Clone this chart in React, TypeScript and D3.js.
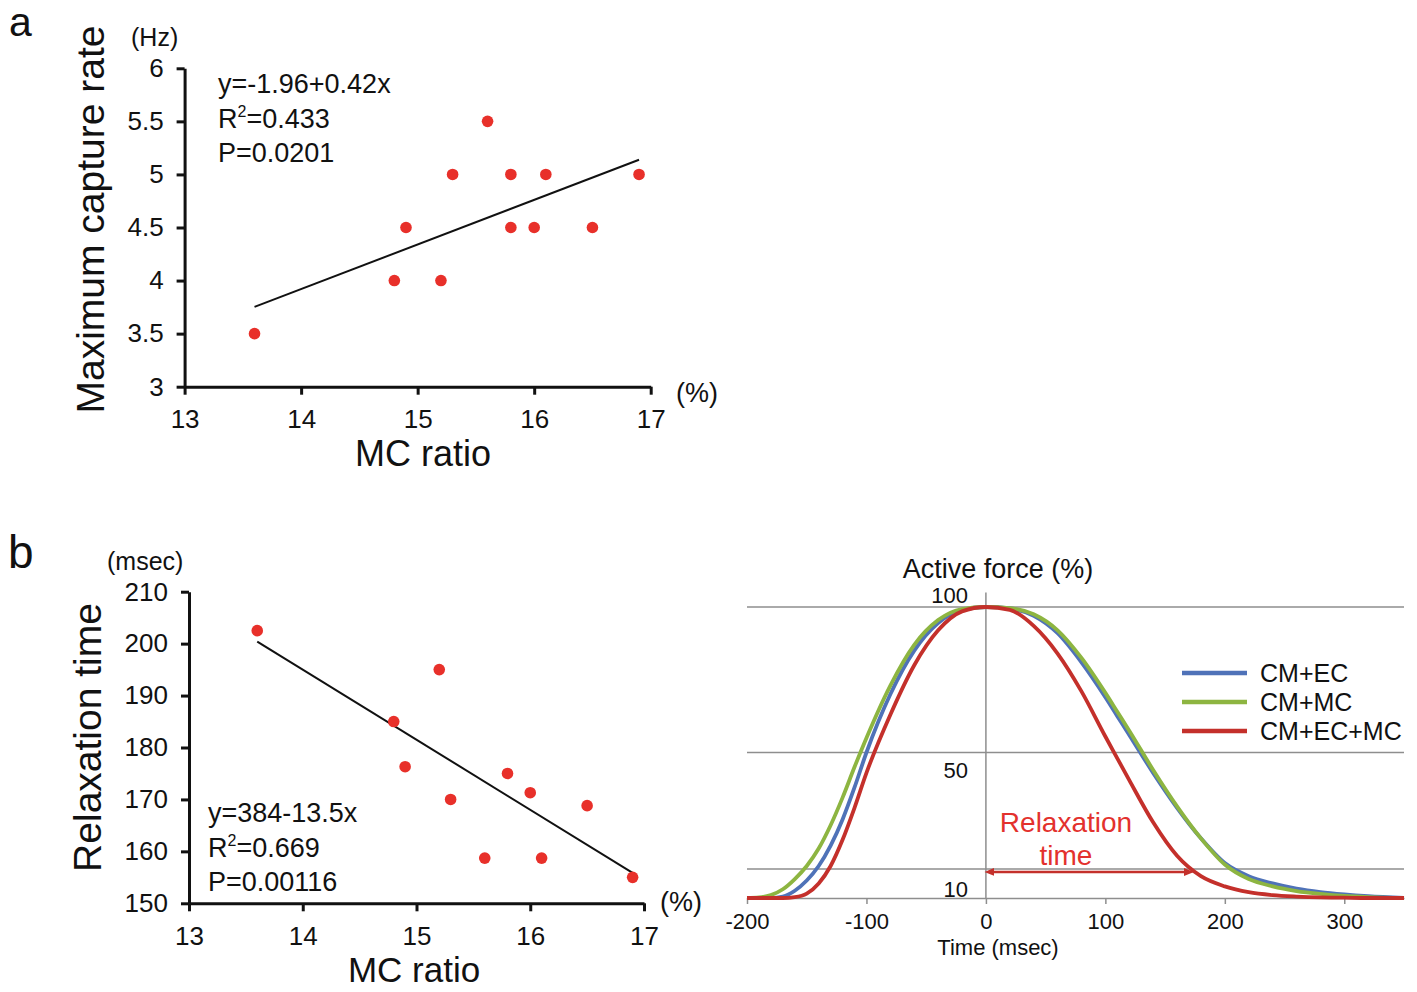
import React, { useEffect, useRef } from "react";
import * as d3 from "d3";

// panel a: MC ratio vs maximum capture rate
const mcRatioA = [13.6, 14.8, 14.9, 15.2, 15.3, 15.6, 15.8, 15.8, 16.0, 16.1, 16.5, 16.9];
const captureRate = [3.5, 4.0, 4.5, 4.0, 5.0, 5.5, 5.0, 4.5, 4.5, 5.0, 4.5, 5.0];
const fitA = [-1.96, 0.42];
const ticksAx = [13, 14, 15, 16, 17];
const ticksAy = [3, 3.5, 4, 4.5, 5, 5.5, 6];

// panel b (left): MC ratio vs relaxation time
const mcRatioB = [13.6, 14.8, 14.9, 15.2, 15.3, 15.6, 15.8, 16.0, 16.1, 16.5, 16.9];
const relaxTime = [202.5, 185, 176.3, 195, 170, 158.7, 175, 171.3, 158.7, 168.8, 155];
const fitB = [384, -13.5];
const ticksBy = [150, 160, 170, 180, 190, 200, 210];

// panel b (right): active force traces
const timeMs = [-200, -190, -180, -170, -160, -150, -140, -130, -120, -110, -100, -80, -60, -40, -20, 0,
  20, 40, 60, 80, 100, 110, 120, 140, 160, 180, 200, 220, 240, 260, 280, 300, 320, 350];
const forceCmEc = [0, 0, 0, 0.5, 2.5, 6, 11, 18, 27, 38, 50, 70, 85, 94.5, 99, 100,
  99.5, 97, 91, 81, 69, 62.5, 56, 43, 31, 20.5, 12, 7.5, 5, 3.2, 2, 1.2, 0.6, 0];
const forceCmMc = [0, 0.2, 1, 3, 6.5, 11, 17, 25, 34.5, 45, 55, 73, 87, 95.5, 99.3, 100,
  99.6, 97.5, 92, 82.5, 70.5, 64, 57.5, 44, 31.5, 20.5, 11.5, 6.5, 4, 2.4, 1.4, 0.7, 0.3, 0];
const forceCmEcMc = [0, 0, 0, 0, 0.3, 1.5, 5, 11, 20, 31, 43, 63, 80, 92, 98.5, 100,
  99, 93.5, 84, 71, 55.5, 48, 40.5, 26, 14.5, 7.5, 4, 2, 1, 0.5, 0.2, 0.1, 0, 0];
const seriesNames = ["CM+EC", "CM+MC", "CM+EC+MC"];
const seriesColors = ["#4f72b8", "#8db541", "#c4302b"];
const forceTicks = [100, 50, 10];
const timeTicks = [-200, -100, 0, 100, 200, 300];

const FONT = "'Liberation Sans', Arial, Helvetica, sans-serif";
const DOT = "#e8302a";

const App = () => {
  const svgRef = useRef();

  useEffect(() => {
    const svg = d3.select(svgRef.current);
    svg.selectAll("*").remove();
    svg.attr("font-family", FONT);

    const txt = (x, y, s, size, anchor = "start", fill = "#111") =>
      svg.append("text").attr("x", x).attr("y", y).attr("font-size", size)
        .attr("text-anchor", anchor).attr("fill", fill).text(s);

    const styleAxis = (g) => {
      g.attr("font-family", FONT);
      g.select(".domain").attr("stroke", "#111").attr("stroke-width", 3);
      g.selectAll(".tick line").attr("stroke", "#111").attr("stroke-width", 3);
      g.selectAll(".tick text").attr("fill", "#111").attr("font-size", 26);
    };

    const scatter = (xs, ys, fit, x, y, yTicks, lines, textX, textY0) => {
      const gx = svg.append("g").attr("transform", `translate(0,${y.range()[0]})`)
        .call(d3.axisBottom(x).tickValues(ticksAx).tickSize(8).tickSizeOuter(0).tickPadding(15).tickFormat((d) => `${d}`));
      styleAxis(gx);
      const gy = svg.append("g").attr("transform", `translate(${x.range()[0]},0)`)
        .call(d3.axisLeft(y).tickValues(yTicks).tickSize(8).tickSizeOuter(0).tickPadding(13).tickFormat((d) => `${d}`));
      styleAxis(gy);

      const x0 = d3.min(xs), x1 = d3.max(xs);
      svg.append("line")
        .attr("x1", x(x0)).attr("y1", y(fit[0] + fit[1] * x0))
        .attr("x2", x(x1)).attr("y2", y(fit[0] + fit[1] * x1))
        .attr("stroke", "#111").attr("stroke-width", 2);

      svg.append("g").selectAll("circle").data(xs).join("circle")
        .attr("cx", (d) => x(d)).attr("cy", (d, i) => y(ys[i])).attr("r", 5.8).attr("fill", DOT);

      lines.forEach((l, i) => {
        const t = svg.append("text").attr("x", textX).attr("y", textY0 + i * 34.5)
          .attr("font-size", 27).attr("fill", "#111");
        if (l.sup) {
          t.append("tspan").text(l.pre);
          t.append("tspan").attr("font-size", 16).attr("dy", -11).text(l.sup);
          t.append("tspan").attr("dy", 11).text(l.post);
        } else t.text(l.pre);
      });
    };

    // ---- panel a
    const xA = d3.scaleLinear().domain([13, 17]).range([184.6, 650.7]);
    const yA = d3.scaleLinear().domain([3, 6]).range([386.7, 68.3]);
    scatter(mcRatioA, captureRate, fitA, xA, yA, ticksAy, [
      { pre: "y=-1.96+0.42x" },
      { pre: "R", sup: "2", post: "=0.433" },
      { pre: "P=0.0201" },
    ], 218, 93);
    txt(9, 36, "a", 41);
    txt(131, 46, "(Hz)", 25);
    txt(676, 402, "(%)", 27);
    txt(423, 466, "MC ratio", 36, "middle");
    txt(0, 0, "Maximum capture rate", 39, "middle")
      .attr("transform", "translate(104,219.5) rotate(-90)");

    // ---- panel b left
    const xB = d3.scaleLinear().domain([13, 17]).range([189, 644]);
    const yB = d3.scaleLinear().domain([150, 210]).range([903.3, 591.7]);
    scatter(mcRatioB, relaxTime, fitB, xB, yB, ticksBy, [
      { pre: "y=384-13.5x" },
      { pre: "R", sup: "2", post: "=0.669" },
      { pre: "P=0.00116" },
    ], 208, 822);
    txt(8, 568, "b", 46);
    txt(107, 570, "(msec)", 25);
    txt(660, 911, "(%)", 27);
    txt(414, 982, "MC ratio", 35, "middle");
    txt(0, 0, "Relaxation time", 39, "middle")
      .attr("transform", "translate(101,737.5) rotate(-90)");

    // ---- panel b right
    const xT = d3.scaleLinear().domain([-200, 350]).range([747, 1404]);
    const yF = d3.scaleLinear().domain([0, 100]).range([898, 607]);
    const grey = "#8e8e8e";

    svg.append("g").selectAll("line").data(forceTicks).join("line")
      .attr("x1", xT(-200)).attr("x2", xT(350))
      .attr("y1", (d) => yF(d)).attr("y2", (d) => yF(d))
      .attr("stroke", grey).attr("stroke-width", 1.5);
    svg.append("line").attr("x1", xT(0)).attr("x2", xT(0)).attr("y1", yF(105)).attr("y2", yF(0))
      .attr("stroke", grey).attr("stroke-width", 1.5);

    const gT = svg.append("g").attr("transform", `translate(0,${yF(0)})`)
      .call(d3.axisBottom(xT).tickValues(timeTicks).tickSize(6).tickSizeOuter(0).tickPadding(9)
        .tickFormat((d) => `${d}`));
    gT.attr("font-family", FONT);
    gT.select(".domain").attr("stroke", grey).attr("stroke-width", 1.5);
    gT.selectAll(".tick line").attr("stroke", grey).attr("stroke-width", 1.5);
    gT.selectAll(".tick text").attr("fill", "#111").attr("font-size", 22);

    const labelOffset = { 100: -4, 50: 25, 10: 28 };
    forceTicks.forEach((v) => txt(968, yF(v) + labelOffset[v], `${v}`, 22, "end"));

    const line = d3.line().x((d) => xT(d[0])).y((d) => yF(d[1])).curve(d3.curveMonotoneX);
    [forceCmEc, forceCmMc, forceCmEcMc].forEach((s, i) => {
      svg.append("path").datum(timeMs.map((t, j) => [t, s[j]]))
        .attr("d", line).attr("fill", "none")
        .attr("stroke", seriesColors[i]).attr("stroke-width", 3.8)
        .attr("stroke-linejoin", "round");
    });

    // relaxation arrow (0 -> red curve crossing at 10%)
    const defs = svg.append("defs");
    ["start", "end"].forEach((k) => {
      defs.append("marker").attr("id", `arr-${k}`).attr("viewBox", "0 0 10 10")
        .attr("refX", 5).attr("refY", 5).attr("markerWidth", 4).attr("markerHeight", 4)
        .attr("orient", k === "end" ? "auto" : "auto-start-reverse")
        .append("path").attr("d", "M0,1 L10,5 L0,9 z").attr("fill", "#c4302b");
    });
    svg.append("line").attr("x1", xT(3)).attr("x2", xT(170))
      .attr("y1", yF(10) + 3).attr("y2", yF(10) + 3)
      .attr("stroke", "#c4302b").attr("stroke-width", 2.5)
      .attr("marker-start", "url(#arr-start)").attr("marker-end", "url(#arr-end)");
    txt(1066, 832, "Relaxation", 28, "middle", "#e3312d");
    txt(1066, 865, "time", 28, "middle", "#e3312d");

    txt(998, 578, "Active force (%)", 27, "middle");
    txt(998, 955, "Time (msec)", 22, "middle");

    // legend
    seriesNames.forEach((n, i) => {
      const ly = 673 + i * 29;
      svg.append("line").attr("x1", 1182).attr("x2", 1247).attr("y1", ly).attr("y2", ly)
        .attr("stroke", seriesColors[i]).attr("stroke-width", 4.5);
      txt(1260, ly + 9, n, 25);
    });
  }, []);

  return (
    <div style={{ position: "absolute", left: 0, top: 0, background: "#fff" }}>
      <svg ref={svgRef} width={1417} height={992} viewBox="0 0 1417 992"></svg>
    </div>
  );
};

export default App;
